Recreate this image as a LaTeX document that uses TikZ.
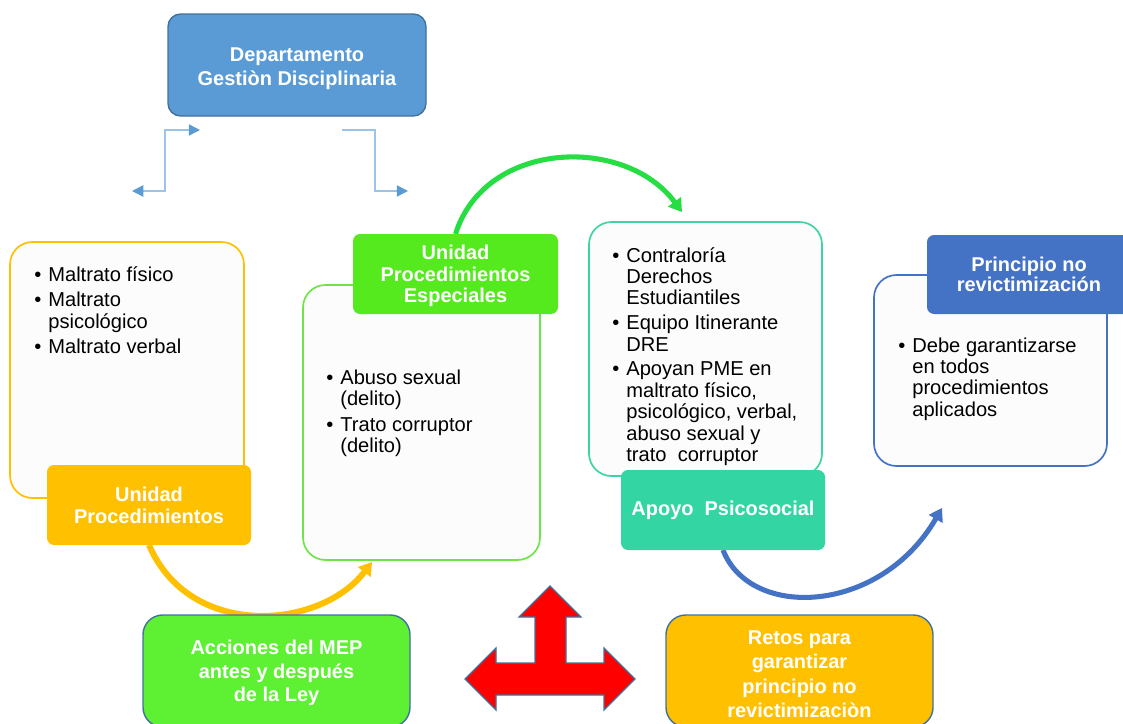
\documentclass[tikz,border=0pt]{standalone}
\usepackage{fontspec}
\setmainfont{Liberation Sans}
\usetikzlibrary{arrows.meta}
\newcommand{\px}{0.025cm}
\newcommand{\bul}{\makebox[10pt][l]{\textbullet}}
\newcommand{\ind}{\hspace*{10pt}}
\newcommand{\haut}{\rule{0pt}{10.5pt}}
\definecolor{bleudep}{RGB}{91,155,213}
\definecolor{bleubord}{RGB}{65,113,156}
\definecolor{bleulien}{RGB}{157,195,230}
\definecolor{orange1}{RGB}{255,192,0}
\definecolor{vert1}{RGB}{85,234,30}
\definecolor{vert2}{RGB}{94,240,50}
\definecolor{vertbord}{RGB}{110,228,70}
\definecolor{vertarc}{RGB}{38,221,68}
\definecolor{turq}{RGB}{51,214,163}
\definecolor{turqbord}{RGB}{60,212,162}
\definecolor{bleu2}{RGB}{68,114,196}
\definecolor{fondc}{RGB}{252,252,252}
\tikzstyle{titre}=[rounded corners=5pt, text=white, align=center, inner sep=0]
\tikzstyle{cadre}=[rounded corners=16pt, fill=fondc, line width=1.2pt, inner sep=0]
\tikzstyle{puces}=[anchor=north west, align=left, inner sep=0, font=\fontsize{14.3}{15.2}\selectfont]
\tikzstyle{lien}=[bleulien, line width=1pt]
\tikzstyle{fleche}=[line width=4pt, -{Triangle[length=9pt,width=11pt]}]
\tikzset{pointe/.tip={Triangle[length=8pt,width=8pt,color=bleudep]}}

\begin{document}
\begin{tikzpicture}[x=\px, y=-\px]
\useasboundingbox (0,0) rectangle (1123,723);
\clip (0,0) rectangle (1123,723);

% cadres
\node[cadre, draw=orange1, minimum width=234*\px, minimum height=256*\px] (maltrato) at (127,370) {};
\node[cadre, draw=vertbord, minimum width=237*\px, minimum height=275*\px] (delitos) at (421.5,422.5) {};
\node[cadre, draw=turqbord, minimum width=233*\px, minimum height=254*\px] (apoyos) at (705.5,349) {};
\node[cadre, draw=bleu2, minimum width=233*\px, minimum height=191*\px] (garantie) at (990.5,370.5) {};

\node[puces] (maltratot) at (34,266) {\haut\bul Maltrato físico\\[3pt]\bul Maltrato\\\ind psicológico\\[3pt]\bul Maltrato verbal};
\node[puces] (delitost) at (326,369) {\haut\bul Abuso sexual\\\ind (delito)\\[3pt]\bul Trato corruptor\\\ind (delito)};
\node[puces] (apoyost) at (612,247) {\haut\bul Contraloría\\\ind Derechos\\\ind Estudiantiles\\[2.5pt]\bul Equipo Itinerante\\\ind DRE\\[2.5pt]\bul Apoyan PME en\\\ind maltrato físico,\\\ind psicológico, verbal,\\\ind abuso sexual y\\\ind trato\ \ corruptor};
\node[puces] (garantiet) at (898,337) {\haut\bul Debe garantizarse\\\ind en todos\\\ind procedimientos\\\ind aplicados};

% liens du departamento
\coordinate (lienA) at (132,191);
\coordinate (lienB) at (200,130);
\coordinate (lienC) at (342,130);
\coordinate (lienD) at (408,191);
\draw[lien, pointe-pointe] (lienA) -- ++(33,0) |- (lienB);
\draw[lien, -pointe] (lienC) -- ++(33,0) |- (lienD);

% fleches courbes
\coordinate (finvert) at (682,212);
\coordinate (finorange) at (372,562);
\coordinate (finbleu) at (942,508);
\draw[fleche, vertarc, line width=3.6pt] (455.5,234) .. controls (485,140) and (625,135) .. (finvert);
\draw[fleche, orange1, line width=4.3pt] (149,545) .. controls (190,640) and (320,630) .. (finorange);
\draw[fleche, bleu2, line width=3.6pt] (723,550) .. controls (750,620) and (880,615) .. (finbleu);

% titres
\node[titre, fill=bleudep, draw=bleubord, line width=1pt, rounded corners=9pt, minimum width=258*\px, minimum height=102*\px, font=\bfseries\fontsize{14.2}{17}\selectfont] (dept) at (297,65) {\rule{0pt}{14.5pt}Departamento\\Gestiòn Disciplinaria};
\node[titre, fill=orange1, minimum width=204*\px, minimum height=80*\px, font=\bfseries\fontsize{14.2}{15.6}\selectfont] (up) at (149,505) {Unidad\\Procedimientos};
\node[titre, fill=vert1, minimum width=205*\px, minimum height=80*\px, font=\bfseries\fontsize{14.2}{15}\selectfont] (upe) at (455.5,274) {\rule{0pt}{13pt}Unidad\\Procedimientos\\Especiales};
\node[titre, fill=turq, minimum width=204*\px, minimum height=80*\px, font=\bfseries\fontsize{14.2}{15}\selectfont] (aps) at (723,510) {Apoyo\ \ Psicosocial};
\node[titre, fill=bleu2, minimum width=204*\px, minimum height=79*\px, font=\bfseries\fontsize{14.2}{14.4}\selectfont] (pnr) at (1029,274.5) {Principio no\\revictimización};
\node[titre, fill=vert2, draw=bleubord, line width=1pt, rounded corners=14pt, minimum width=267*\px, minimum height=112*\px, font=\bfseries\fontsize{14.2}{17}\selectfont] (acc) at (276.5,671) {\rule{0pt}{13pt}Acciones del MEP\\antes y después\\de la Ley};
\node[titre, fill=orange1, draw=bleubord, line width=1pt, rounded corners=14pt, minimum width=267*\px, minimum height=112*\px, font=\bfseries\fontsize{14.2}{17.3}\selectfont] (retos) at (799.5,671) {\rule{0pt}{14.5pt}Retos para\\garantizar\\principio no\\revictimizaciòn};

% fleche rouge
\draw[fill=red, draw=bleubord, line width=0.8pt, line join=miter] (550,586) -- (581,617) -- (566,617) -- (566,663) -- (604,663) -- (604,648) -- (635,679) -- (604,710) -- (604,695) -- (496,695) -- (496,710) -- (465,679) -- (496,648) -- (496,663) -- (535,663) -- (535,617) -- (519,617) -- cycle;
\end{tikzpicture}
\end{document}
